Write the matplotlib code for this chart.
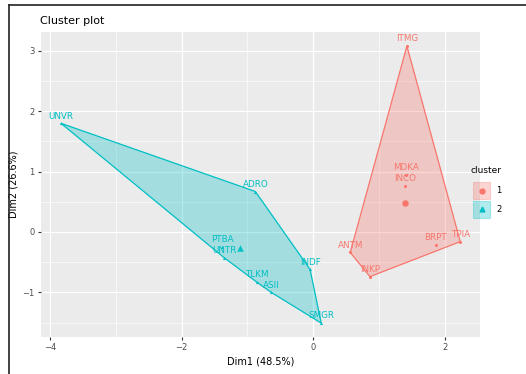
import numpy as np
import matplotlib
matplotlib.use("Agg")
import matplotlib.pyplot as plt
from matplotlib.lines import Line2D
from matplotlib.patches import Polygon, Rectangle

# ---- data ----
c1_names = ["ITMG", "INCO", "MDKA", "ANTM", "INKP", "BRPT", "TPIA"]
c1_x = [1.42, 1.39, 1.41, 0.56, 0.86, 1.86, 2.23]
c1_y = [3.08, 0.76, 0.94, -0.34, -0.74, -0.21, -0.16]

c2_names = ["UNVR", "ADRO", "PTBA", "UNTR", "TLKM", "ASII", "INDF", "SMGR"]
c2_x = [-3.83, -0.88, -1.38, -1.35, -0.86, -0.64, -0.05, 0.12]
c2_y = [1.80, 0.67, -0.25, -0.43, -0.83, -1.00, -0.62, -1.51]

cluster_labels = ["1", "2"]
x_ticks = [-4, -2, 0, 2]
y_ticks = [-1, 0, 1, 2, 3]

RED = "#F8766D"
CYAN = "#00BFC4"


def convex_hull(pts):
    pts = sorted(set(pts))
    if len(pts) <= 2:
        return pts

    def cross(o, a, b):
        return (a[0] - o[0]) * (b[1] - o[1]) - (a[1] - o[1]) * (b[0] - o[0])

    lower, upper = [], []
    for p in pts:
        while len(lower) >= 2 and cross(lower[-2], lower[-1], p) <= 0:
            lower.pop()
        lower.append(p)
    for p in reversed(pts):
        while len(upper) >= 2 and cross(upper[-2], upper[-1], p) <= 0:
            upper.pop()
        upper.append(p)
    return lower[:-1] + upper[:-1]


fig = plt.figure(figsize=(5.26, 3.74), dpi=100)
ax = fig.add_axes([0.078, 0.099, 0.835, 0.815])
ax.set_facecolor("#EBEBEB")

all_x = c1_x + c2_x
all_y = c1_y + c2_y
xr = max(all_x) - min(all_x)
yr = max(all_y) - min(all_y)
ax.set_xlim(min(all_x) - 0.05 * xr, max(all_x) + 0.05 * xr)
ax.set_ylim(min(all_y) - 0.05 * yr, max(all_y) + 0.05 * yr)

# grid
ax.set_xticks(x_ticks)
ax.set_yticks(y_ticks)
ax.set_xticks([-3, -1, 1], minor=True)
ax.set_yticks([-1.5, -0.5, 0.5, 1.5, 2.5], minor=True)
ax.grid(True, which="major", color="white", linewidth=0.9)
ax.grid(True, which="minor", color="white", linewidth=0.45)
ax.set_axisbelow(True)
for s in ax.spines.values():
    s.set_visible(False)
ax.tick_params(axis="both", which="major", length=2.5, color="#333333",
               labelsize=6, labelcolor="#4D4D4D", pad=2)
ax.tick_params(axis="both", which="minor", length=0)

series = [(c1_names, c1_x, c1_y, RED, "o"), (c2_names, c2_x, c2_y, CYAN, "^")]
for names, xs, ys, col, mk in series:
    hull = convex_hull(list(zip(xs, ys)))
    ax.add_patch(Polygon(hull, closed=True, facecolor=col, alpha=0.3,
                         edgecolor="none", zorder=2))
    ax.add_patch(Polygon(hull, closed=True, facecolor="none",
                         edgecolor=col, linewidth=0.9, zorder=3))
    ax.scatter(xs, ys, s=5, marker=mk, color=col, zorder=4, linewidths=0)
    for n, x, y in zip(names, xs, ys):
        ax.annotate(n, (x, y), xytext=(0, 2.0), textcoords="offset points",
                    ha="center", va="bottom", fontsize=6.3, color=col, zorder=5)
    ax.scatter([np.mean(xs)], [np.mean(ys)], s=22, marker=mk, color=col,
               zorder=4, linewidths=0)

ax.set_xlabel("Dim1 (48.5%)", fontsize=7, color="black", labelpad=3)
ax.set_ylabel("Dim2 (26.6%)", fontsize=7, color="black", labelpad=3)
fig.text(0.076, 0.945, "Cluster plot", fontsize=8, color="black",
         ha="left", va="center")

# legend
fig.text(0.895, 0.545, "cluster", fontsize=6.5, ha="left", va="center")
key_w, key_h = 0.032, 0.045
for i, (lab, col, mk) in enumerate(zip(cluster_labels, [RED, CYAN], ["o", "^"])):
    ky = 0.49 - i * 0.05
    fig.add_artist(Rectangle((0.9, ky - key_h / 2), key_w, key_h,
                             transform=fig.transFigure, facecolor=col,
                             alpha=0.3, edgecolor=col, linewidth=0.8))
    fig.add_artist(Line2D([0.9 + key_w / 2], [ky], marker=mk, color=col,
                          markersize=3.5, linestyle="none",
                          transform=fig.transFigure))
    fig.text(0.9 + key_w + 0.012, ky, lab, fontsize=6, ha="left", va="center")

# screenshot frame lines
fig.add_artist(Line2D([0.017, 1], [0.986, 0.986], color="#222222",
                      linewidth=1.2, transform=fig.transFigure))
fig.add_artist(Line2D([0.017, 0.017], [0, 0.986], color="#222222",
                      linewidth=1.2, transform=fig.transFigure))

fig.savefig("out.png", dpi=100)
